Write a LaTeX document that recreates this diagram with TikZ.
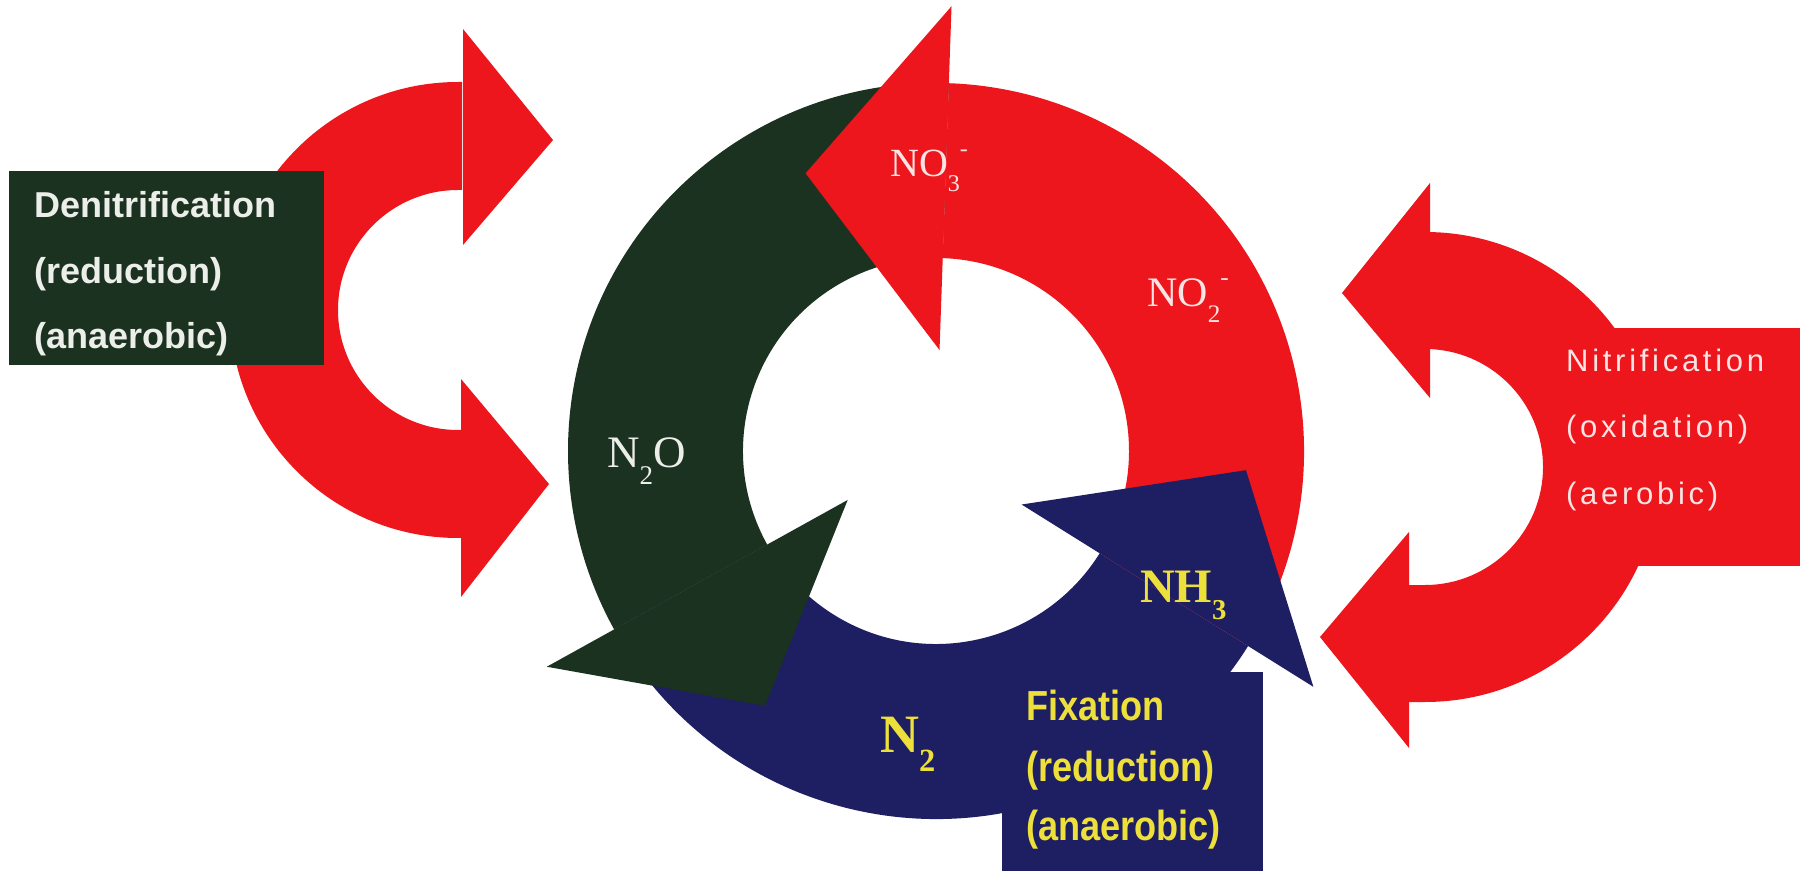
\documentclass[tikz,border=0pt]{standalone}
\usepackage{graphicx}
\usepackage{fontspec}
\setmainfont{Liberation Serif}
\newfontfamily\sansf{Liberation Sans}
\newfontfamily\sanssp[LetterSpace=12]{Liberation Sans}
\usetikzlibrary{calc}
\definecolor{cred}{RGB}{236,22,28}
\definecolor{cgreen}{RGB}{28,50,32}
\definecolor{cnavy}{RGB}{30,30,98}
\definecolor{cyel}{RGB}{238,224,58}
\definecolor{cwhite}{RGB}{236,238,234}
\definecolor{cpink}{RGB}{252,228,228}
\newcommand\chsub[1]{\raisebox{-0.36em}{\scalebox{0.6}{#1}}}
\newcommand\chsup[1]{\raisebox{0.5em}{\scalebox{0.6}{#1}}}
\begin{document}
\begin{tikzpicture}[x=1pt,y=1pt,
  lbl/.style={inner sep=0pt, anchor=base west},
  boxtxt/.style={lbl, text=cwhite, font=\sansf\bfseries\fontsize{36}{36}\selectfont},
  nittxt/.style={lbl, text=cpink, font=\sanssp\fontsize{31}{31}\selectfont},
  fixtxt/.style={lbl, text=cyel, font=\sansf\bfseries\fontsize{42}{42}\selectfont},
]
\useasboundingbox (0,0) rectangle (1812,871);
\fill[white] (0,0) rectangle (1812,871);

% ---------- left C arrow (denitrification) ----------
\fill[cred] (462,789) -- (458,789) arc[start angle=90,end angle=270,radius=228]
  -- (462,333) -- (462,441) -- (458,441) arc[start angle=270,end angle=90,radius=120]
  -- (462,681) -- cycle;
\fill[cred] (463,842) -- (553,731) -- (463,626) -- cycle;
\fill[cred] (461,492) -- (549,387) -- (461,274) -- cycle;
\fill[cgreen] (9,506) rectangle (324,700);

% ---------- right C arrow (nitrification) ----------
\fill[cred] (1430,639) -- (1425,639) arc[start angle=90,end angle=-90,radius=235]
  -- (1409,169) -- (1409,286) -- (1425,286) arc[start angle=-90,end angle=90,radius=118]
  -- (1430,522) -- cycle;
\fill[cred] (1430,688) -- (1342,578) -- (1430,473) -- cycle;
\fill[cred] (1409,339) -- (1320,234) -- (1409,123) -- cycle;
\fill[cred] (1560,305) rectangle (1800,543);

% ---------- central cycle ----------
\begin{scope}[shift={(936,420)}]
  \fill[cnavy] (209:368) arc[start angle=209,end angle=328,radius=368]
    -- (328:193) arc[start angle=328,end angle=209,radius=193] -- cycle;
  \fill[cgreen] (88:368) arc[start angle=88,end angle=209,radius=368]
    -- (209:193) arc[start angle=209,end angle=88,radius=193] -- cycle;
  \fill[cred] (-32:368) arc[start angle=-32,end angle=88,radius=368]
    -- (88:193) arc[start angle=88,end angle=-32,radius=193] -- cycle;
  \fill[cred] (88:445) -- ($(88:273)+(178:140)$) -- (88:101) -- cycle;
  \fill[cgreen] (209:445) -- ($(209:273)+(299:140)$) -- (209:101) -- cycle;
  \fill[cnavy] (328:445) -- ($(328:273)+(58:148)$) -- (328:101) -- cycle;
\end{scope}
\fill[cnavy] (1002,0) rectangle (1263,199);

% ---------- texts ----------
\node[boxtxt] (den1) at (34,653) {Denitrification};
\node[boxtxt] (den2) at (34,587) {(reduction)};
\node[boxtxt] (den3) at (34,522) {(anaerobic)};

\node[nittxt] (nit1) at (1566,499) {Nitrification};
\node[nittxt] (nit2) at (1566,433) {(oxidation)};
\node[nittxt] (nit3) at (1566,366) {(aerobic)};

\node[fixtxt] (fix1) at (1026,151) {\scalebox{0.86}[1]{Fixation}};
\node[fixtxt] (fix2) at (1026,90) {\scalebox{0.86}[1]{(reduction)}};
\node[fixtxt] (fix3) at (1026,31) {\scalebox{0.86}[1]{(anaerobic)}};

\node[lbl, text=cpink, font=\fontsize{40}{40}\selectfont] (no3) at (890,694) {NO\chsub{3}\chsup{-}};
\node[lbl, text=cpink, font=\fontsize{42}{42}\selectfont] (no2) at (1147,564) {NO\chsub{2}\chsup{-}};
\node[lbl, text=cwhite, font=\fontsize{45}{45}\selectfont] (n2o) at (607,403) {N\chsub{2}O};
\node[lbl, text=cyel, font=\bfseries\fontsize{54}{54}\selectfont] (n2) at (880,119) {N\chsub{2}};
\node[lbl, text=cyel, font=\bfseries\fontsize{48}{48}\selectfont] (nh3) at (1140,269) {NH\chsub{3}};
\end{tikzpicture}
\end{document}
